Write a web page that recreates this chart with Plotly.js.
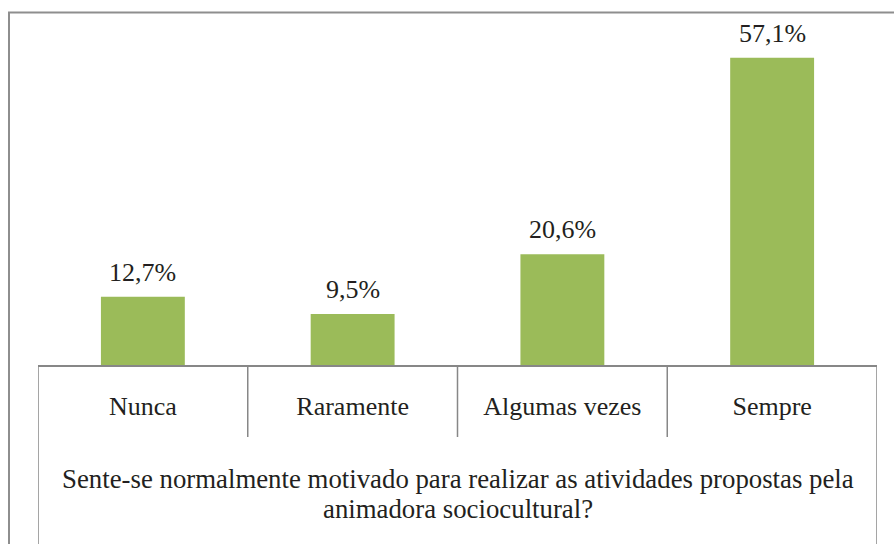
<!DOCTYPE html>
<html>
<head>
<meta charset="utf-8">
<script src="https://cdn.plot.ly/plotly-3.0.1.min.js"></script>
<style>
  html, body { margin: 0; padding: 0; background: #ffffff; }
  #chart { width: 894px; height: 544px; }
</style>
</head>
<body>
<div id="chart"></div>
<script>
const categories = ["Nunca", "Raramente", "Algumas vezes", "Sempre"];
const values = [12.7, 9.5, 20.6, 57.1];
const valueLabels = ["12,7%", "9,5%", "20,6%", "57,1%"];
const titleLines = ["Sente-se normalmente motivado para realizar as atividades propostas pela",
                    "animadora sociocultural?"];

const W = 894, H = 544;
const plotL = 38, plotR = 877, plotT = 12, plotB = 365;
const px2x = p => (p - plotL) / (plotR - plotL);
const py2y = p => (plotB - p) / (plotB - plotT);

const fontFam = 'Liberation Serif, serif';
const txtColor = '#231f20';
const lineColor = '#878787';

const shapes = [];
// outer frame (left and top)
shapes.push({type: 'line', xref: 'paper', yref: 'paper', x0: px2x(9), x1: px2x(9), y0: py2y(12), y1: py2y(560), line: {color: '#8e8e8e', width: 2}});
shapes.push({type: 'line', xref: 'paper', yref: 'paper', x0: px2x(8), x1: px2x(900), y0: py2y(12.5), y1: py2y(12.5), line: {color: '#8e8e8e', width: 2}});
// category table dividers
for (let i = 0; i <= categories.length; i++) {
  const outer = (i === 0 || i === categories.length);
  shapes.push({type: 'line', xref: 'x', yref: 'paper', x0: i - 0.5, x1: i - 0.5,
    y0: py2y(365), y1: py2y(outer ? 560 : 437), line: {color: lineColor, width: 1.5}});
}

const annotations = categories.map((c, i) => ({
  x: c, y: values[i], xref: 'x', yref: 'y', text: valueLabels[i],
  showarrow: false, yanchor: 'bottom', yshift: 8,
  font: {family: fontFam, size: 26, color: txtColor}
}));
// axis title (two lines, tighter line spacing than Plotly's default)
const titleCenters = [478.5, 509];
titleLines.forEach((t, i) => annotations.push({
  x: 0.5, y: py2y(titleCenters[i]), xref: 'paper', yref: 'paper', text: t,
  showarrow: false, xanchor: 'center', yanchor: 'middle',
  font: {family: fontFam, size: 26.8, color: txtColor}
}));

const trace = {
  type: 'bar', x: categories, y: values, width: 0.4,
  marker: {color: '#9bbb59', line: {width: 0}},
  hoverinfo: 'none'
};

const layout = {
  width: W, height: H,
  margin: {l: plotL, r: W - plotR, t: plotT, b: H - plotB, pad: 0},
  paper_bgcolor: '#ffffff', plot_bgcolor: 'rgba(0,0,0,0)',
  showlegend: false,
  bargap: 0.6,
  font: {family: fontFam, size: 26, color: txtColor},
  xaxis: {
    type: 'category', range: [-0.5, categories.length - 0.5],
    showline: true, linecolor: lineColor, linewidth: 1.5,
    ticks: '', showgrid: false, zeroline: false,
    tickfont: {family: fontFam, size: 26, color: txtColor},
    ticklabelstandoff: 17,
    fixedrange: true
  },
  yaxis: {
    range: [0, 65.6], visible: false, showgrid: false, zeroline: false, fixedrange: true
  },
  shapes: shapes,
  annotations: annotations
};

Plotly.newPlot('chart', [trace], layout, {displayModeBar: false, staticPlot: true});
</script>
</body>
</html>
